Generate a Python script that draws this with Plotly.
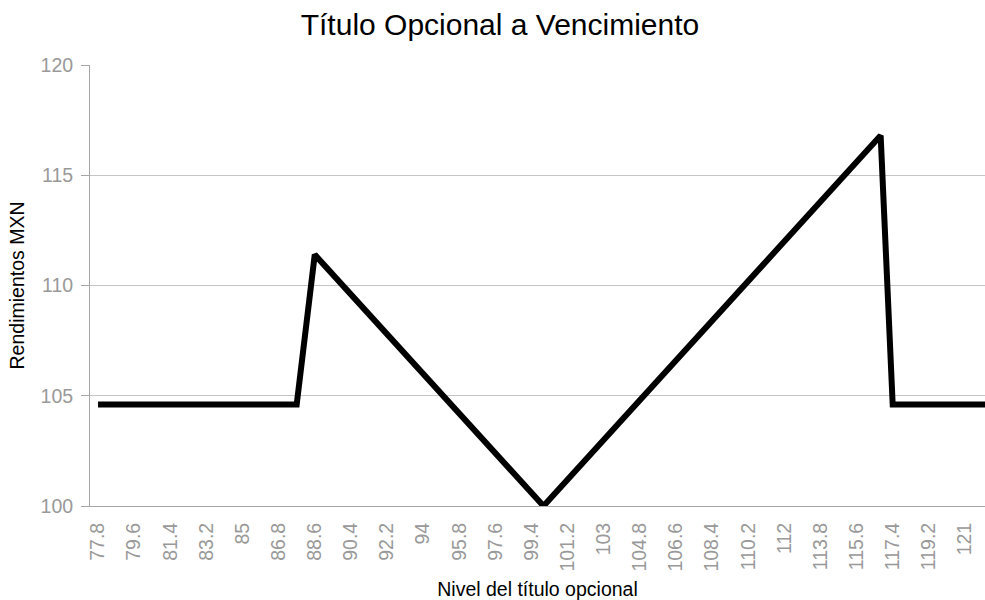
import plotly.graph_objects as go

# Data
nivel = [77.8, 87.7, 88.6, 100.0, 116.8, 117.4, 122.0]
rendimiento = [104.6, 104.6, 111.4, 100.0, 116.8, 104.6, 104.6]

tick_vals = [round(77.8 + 1.8 * i, 1) for i in range(25)]
tick_text = ["77.8", "79.6", "81.4", "83.2", "85", "86.8", "88.6", "90.4", "92.2", "94",
             "95.8", "97.6", "99.4", "101.2", "103", "104.8", "106.6", "108.4", "110.2",
             "112", "113.8", "115.6", "117.4", "119.2", "121"]
y_ticks = [100, 105, 110, 115, 120]

fig = go.Figure()
fig.add_trace(go.Scatter(
    x=nivel, y=rendimiento, mode="lines",
    line=dict(color="black", width=6),
    hoverinfo="x+y", showlegend=False,
))

font_family = "Liberation Sans, Arial, sans-serif"
tick_color = "#999999"

fig.update_layout(
    width=985, height=600,
    paper_bgcolor="white", plot_bgcolor="white",
    margin=dict(l=90, r=0, t=65, b=94, autoexpand=False),
    title=dict(text="Título Opcional a Vencimiento", x=0.5076, xanchor="center",
               y=0.96, yanchor="middle", xref="container", yref="container",
               font=dict(family=font_family, size=30, color="#000000")),
    font=dict(family=font_family),
    xaxis=dict(
        range=[77.4, 122.0], tickmode="array", tickvals=tick_vals, ticktext=tick_text,
        tickangle=-90, tickfont=dict(size=19.5, color=tick_color),
        showgrid=False, zeroline=False, showline=True, linecolor="#a6a6a6", linewidth=1,
        ticks="", ticklabelstandoff=8, automargin=False,
        title=dict(text="Nivel del título opcional", standoff=13,
                   font=dict(size=19.5, color="#000000")),
    ),
    yaxis=dict(
        range=[100, 120], tickmode="array", tickvals=y_ticks,
        tickfont=dict(size=19.5, color=tick_color),
        showgrid=True, gridcolor="#c4c4c4", gridwidth=1, zeroline=False,
        showline=True, linecolor="#a6a6a6", linewidth=1,
        ticks="outside", ticklen=8, tickcolor="#a6a6a6", ticklabelstandoff=4,
        automargin=False,
        title=dict(text="Rendimientos MXN", standoff=10,
                   font=dict(size=19.5, color="#000000")),
    ),
)

fig.write_html("out.html", config={"displayModeBar": False},
               post_script="document.body.style.margin='0';document.body.style.overflow='hidden';")
